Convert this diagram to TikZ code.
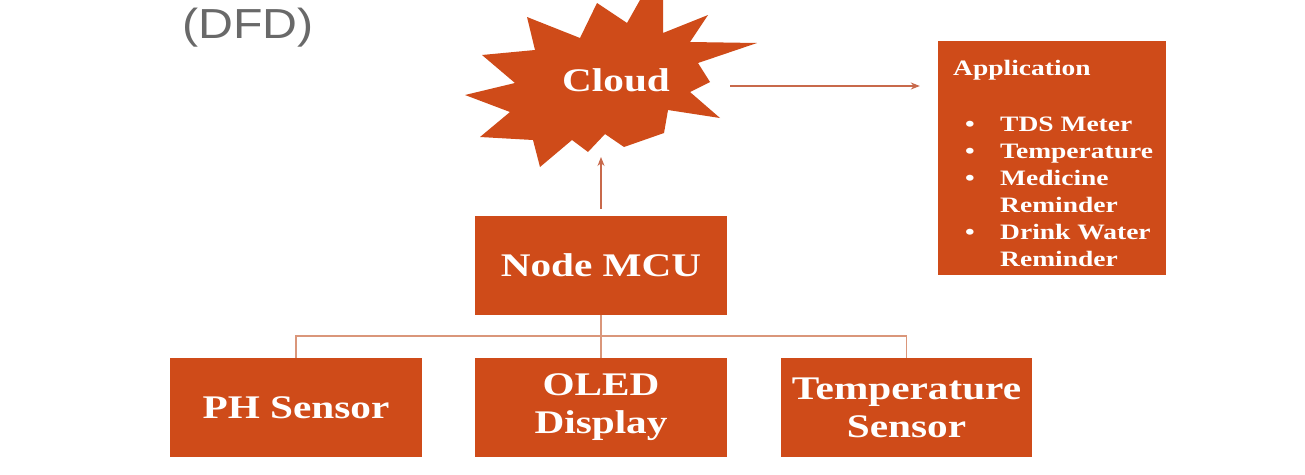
\documentclass[tikz,border=0pt]{standalone}
\usepackage{fontspec}
\setmainfont{Liberation Serif}[FakeStretch=1.25]
\newfontfamily\dfdfont{Liberation Sans}[FakeStretch=1.15]
\usetikzlibrary{arrows.meta}
\definecolor{boxor}{RGB}{207,75,25}
\definecolor{linkor}{RGB}{218,150,122}
\definecolor{arrowor}{RGB}{200,105,75}
\definecolor{dfdgray}{RGB}{105,105,105}
\begin{document}
\begin{tikzpicture}[x=1pt,y=-1pt,
  box/.style={fill=boxor, draw=none, minimum width=252pt, minimum height=99pt, inner sep=0pt,
    text=white, font=\fontsize{33}{38}\selectfont\bfseries, align=center},
  link/.style={draw=linkor, line width=1.6pt},
  flow/.style={draw=arrowor, line width=1.2pt, -{Stealth[length=9pt,width=7pt]}},
  apptext/.style={anchor=base west, text=white, font=\fontsize{22}{26}\selectfont\bfseries, inner sep=0pt}]
\fill[white] (0,0) rectangle (1305,474);
\useasboundingbox (0,0) rectangle (1305,474);

% title
\node[font=\dfdfont\fontsize{42}{46}\selectfont, text=dfdgray, inner sep=0pt] (dfd) at (248,28) {(DFD)};

% cloud starburst
\fill[boxor] (465,95) -- (515,83) -- (482,55) -- (535,50) -- (527,17) -- (580,38) -- (597,3)
  -- (627,23) -- (640,0) -- (663,0) -- (663,33) -- (708,15) -- (690,42) -- (757,43)
  -- (698,63) -- (710,82) -- (690,92) -- (720,118) -- (668,110) -- (664,133) -- (624,147)
  -- (605,134) -- (588,152) -- (572,140) -- (540,167) -- (533,140) -- (480,137) -- (510,112) -- cycle;
\node[text=white, font=\fontsize{33}{38}\selectfont\bfseries, inner sep=0pt] (cloud) at (616,80) {Cloud};
\coordinate (cloudS) at (598,157);
\coordinate (cloudE) at (730,86);

% boxes
\node[box] (mcu) at (601,265.5) {Node MCU};
\node[box] (ph) at (296,407.5) {PH Sensor};
\node[box] (oled) at (601,407.5) {OLED\\Display};
\node[box, minimum width=251pt] (temp) at (906.5,407.5) {Temperature\\Sensor};

% application box
\node[fill=boxor, minimum width=228pt, minimum height=234pt, inner sep=0pt] (app) at (1052,158) {};
\node[apptext] (apptitle) at (953,75) {Application};
\node[apptext] (b1) at (965,131) {\textbullet};
\node[apptext] (i1) at (1000,131) {TDS Meter};
\node[apptext] (b2) at (965,158) {\textbullet};
\node[apptext] (i2) at (1000,158) {Temperature};
\node[apptext] (b3) at (965,185) {\textbullet};
\node[apptext] (i3) at (1000,185) {Medicine};
\node[apptext] (i3b) at (1000,212) {Reminder};
\node[apptext] (b4) at (965,239) {\textbullet};
\node[apptext] (i4) at (1000,239) {Drink Water};
\node[apptext] (i4b) at (1000,266) {Reminder};

% connectors
\coordinate (bus) at (601,336);
\draw[link] (mcu.south) -- (oled.north);
\draw[link] (ph.north) -- (ph.north |- bus) -- (temp.north |- bus) -- (temp.north);
\draw[flow, shorten <=7pt] (mcu.north) -- (mcu.north |- cloudS);
\draw[flow, shorten >=18pt] (cloudE) -- (app.west |- cloudE);
\end{tikzpicture}
\end{document}
